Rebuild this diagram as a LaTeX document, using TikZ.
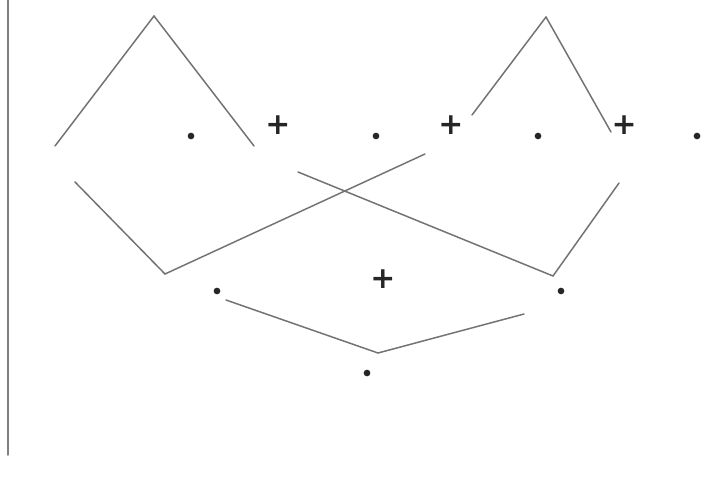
\documentclass[tikz,border=0pt]{standalone}
\usepackage{fontspec}
\usepackage{tikz}
\usetikzlibrary{positioning,calc}
\newfontfamily\plusfont{DejaVu Sans}

\begin{document}
\begin{tikzpicture}[
    x=0.02cm, y=-0.02cm,
    edge/.style={draw=black!55, line width=0.85pt, line cap=round},
    dot/.style={circle, fill=black!85, inner sep=0pt, minimum size=3.8pt},
    op/.style={inner sep=0pt, font=\plusfont\fontsize{17}{17}\selectfont\bfseries, text=black!85}]
  \useasboundingbox (0,0) rectangle (715,479);
  \draw[edge, draw=black!50] (8,0) -- (8,455);
  % operands and operators of the top row
  \node[dot] (d1) at (191,136) {};
  \node[op]  (p1) at (278,125) {+};
  \node[dot] (d2) at (376,136) {};
  \node[op]  (p2) at (451,125) {+};
  \node[dot] (d3) at (538,136) {};
  \node[op]  (p3) at (624,125) {+};
  \node[dot] (d4) at (697,136) {};
  % second row
  \node[dot] (e1) at (217,291) {};
  \node[op]  (q1) at (383,279) {+};
  \node[dot] (e2) at (561,291) {};
  % root
  \node[dot] (r) at (367,373) {};
  % chevron corners
  \coordinate (a1) at (55,146);  \coordinate (t1) at (154,16);  \coordinate (b1) at (254,146);
  \coordinate (a2) at (472,115); \coordinate (t2) at (546,17);  \coordinate (b2) at (611,132);
  \coordinate (a3) at (75,182);  \coordinate (t3) at (165,274); \coordinate (b3) at (425,154);
  \coordinate (a4) at (298,172); \coordinate (t4) at (553,276); \coordinate (b4) at (619,183);
  \coordinate (a5) at (226,300); \coordinate (t5) at (378,353); \coordinate (b5) at (524,314);
  \foreach \i in {1,...,5} { \draw[edge] (a\i) -- (t\i) -- (b\i); }
\end{tikzpicture}
\end{document}
